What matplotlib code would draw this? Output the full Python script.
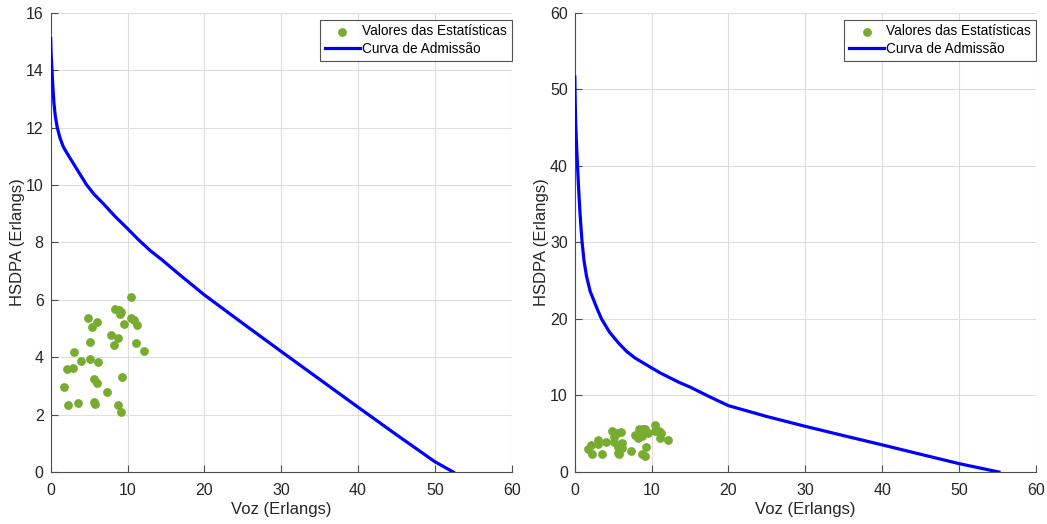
import matplotlib
matplotlib.use("Agg")
import matplotlib.pyplot as plt

plt.rcParams['font.family'] = ['Liberation Sans', 'DejaVu Sans']

# Scatter data (Voz, HSDPA) in Erlangs
voz_pts = [10.39, 8.32, 8.84, 9.18, 9.01, 4.87, 5.99, 5.43, 10.39, 10.9, 11.25, 9.48,
           7.89, 8.75, 8.23, 5.13, 11.12, 12.11, 3.06, 4.01, 5.09, 6.16, 2.97, 2.16,
           1.77, 5.65, 6.08, 7.33, 9.27, 2.28, 3.58, 5.65, 5.73, 8.79, 9.10]
hsdpa_pts = [6.10, 5.68, 5.65, 5.57, 5.52, 5.37, 5.24, 5.04, 5.38, 5.31, 5.12, 5.16,
             4.78, 4.67, 4.43, 4.52, 4.50, 4.22, 4.18, 3.87, 3.93, 3.85, 3.62, 3.59,
             2.97, 3.24, 3.11, 2.80, 3.30, 2.35, 2.39, 2.43, 2.37, 2.34, 2.10]

# Admission curve, left chart
curve1_x = [0, 0.05, 0.17, 0.3, 0.43, 0.6, 0.86, 1.2, 1.64, 2.3, 2.95, 3.8, 4.69, 5.7,
            6.85, 8.4, 10.0, 11.4, 12.93, 14.45, 16.8, 18.4, 20.0, 25.0, 30.0, 35.0,
            40.0, 45.0, 50.0, 52.4]
curve1_y = [15.1, 14.6, 14.0, 13.35, 12.84, 12.4, 12.0, 11.65, 11.33, 11.03, 10.75, 10.38,
            10.0, 9.66, 9.35, 8.9, 8.48, 8.1, 7.72, 7.40, 6.87, 6.52, 6.17, 5.18, 4.20,
            3.23, 2.26, 1.30, 0.36, 0.0]

# Admission curve, right chart
curve2_x = [0, 0.05, 0.13, 0.24, 0.35, 0.5, 0.65, 0.8, 0.95, 1.2, 1.52, 2.0, 2.6, 3.0,
            3.48, 4.5, 5.65, 6.7, 7.83, 9.0, 10.0, 11.2, 12.4, 13.6, 15.0, 17.5, 20.0,
            25.0, 30.0, 35.0, 40.0, 45.0, 50.0, 55.2]
curve2_y = [51.6, 48.5, 45.1, 42.4, 40.0, 37.0, 34.3, 32.0, 30.0, 27.6, 25.6, 23.6, 22.1,
            21.1, 20.0, 18.3, 16.9, 15.8, 14.9, 14.2, 13.6, 12.9, 12.3, 11.7, 11.1, 9.85,
            8.67, 7.25, 5.97, 4.75, 3.55, 2.32, 1.1, 0.0]

xticks = [0, 10, 20, 30, 40, 50, 60]
yticks1 = [0, 2, 4, 6, 8, 10, 12, 14, 16]
yticks2 = [0, 10, 20, 30, 40, 50, 60]

GREEN = '#77AC30'
BLUE = '#0000FF'
AXC = '#4d4d4d'

fig = plt.figure(figsize=(10.47, 5.24), dpi=100)
ax1 = fig.add_axes([0.0484, 0.0992, 0.4403, 0.8765])
ax2 = fig.add_axes([0.549, 0.0992, 0.4403, 0.8765])

for ax, cx, cy, yt in [(ax1, curve1_x, curve1_y, yticks1), (ax2, curve2_x, curve2_y, yticks2)]:
    ax.scatter(voz_pts, hsdpa_pts, s=40, color=GREEN, zorder=3, label='Valores das Estatísticas',
               linewidths=0)
    ax.plot(cx, cy, color=BLUE, lw=2.3, zorder=4, label='Curva de Admissão')
    ax.set_xlim(0, 60)
    ax.set_ylim(yt[0], yt[-1])
    ax.set_xticks(xticks)
    ax.set_yticks(yt)
    ax.grid(True, color='#dedede', lw=0.8)
    ax.set_axisbelow(True)
    for s in ['top', 'right']:
        ax.spines[s].set_visible(False)
    for s in ['left', 'bottom']:
        ax.spines[s].set_color(AXC)
        ax.spines[s].set_linewidth(0.8)
    ax.tick_params(direction='in', length=5, width=0.8, colors=AXC, labelsize=11.5,
                   labelcolor='#262626')
    ax.tick_params(axis='x', pad=8)
    ax.tick_params(axis='y', pad=5)
    ax.set_xlabel('Voz (Erlangs)', fontsize=12, color='#262626', labelpad=3)
    ax.set_ylabel('HSDPA (Erlangs)', fontsize=12, color='#262626', labelpad=0.5)
    leg = ax.legend(loc='upper right', bbox_to_anchor=(1.0, 0.985), fontsize=9.8,
                    frameon=True, fancybox=False, edgecolor='#262626', borderpad=0.35,
                    handlelength=2.6, handletextpad=0.15, borderaxespad=0.0,
                    labelspacing=0.25, scatterpoints=1)
    leg.get_frame().set_linewidth(0.8)

fig.savefig('out.png', dpi=100, facecolor='white')
